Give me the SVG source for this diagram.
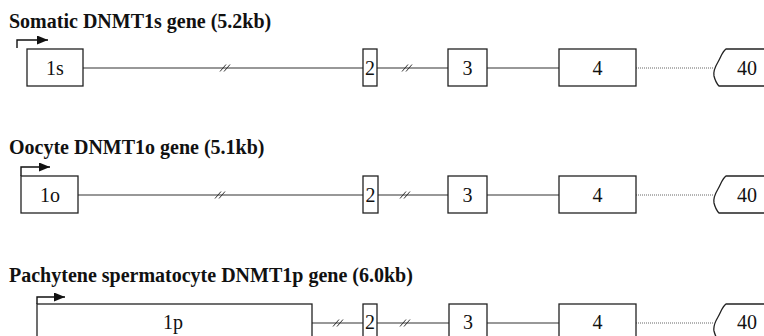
<svg xmlns="http://www.w3.org/2000/svg" xmlns:xlink="http://www.w3.org/1999/xlink" width="764" height="336" viewBox="0 0 764 336">
<style>
.title{font-family:"Liberation Serif","Times New Roman",serif;font-weight:bold;font-size:20px;fill:#111}
.lbl{font-family:"Liberation Serif","Times New Roman",serif;font-size:20px;fill:#111;text-anchor:middle}
.box{fill:#fff;stroke:#222;stroke-width:1.3}
.ln{stroke:#333;stroke-width:1.2;fill:none}
.dot{stroke:#666;stroke-width:1;stroke-dasharray:1 1;fill:none}
.arr{stroke:#111;stroke-width:1.4;fill:none}
</style>
<defs>
<marker id="ah" markerUnits="userSpaceOnUse" markerWidth="11" markerHeight="9" refX="11" refY="4.5" orient="auto">
<path d="M0,0 L11,4.5 L0,9 z" fill="#111"/>
</marker>
<g id="brk">
<path d="M-5,3.5 L1,-3.5 M-1,3.5 L5,-3.5" stroke="#333" stroke-width="1" fill="none"/>
</g>
<path id="end40" d="M764,0 L726,0 C722,3 721,8 718,13 C715,18 713,22 714,27 C715,31 716,34 719,37 L764,37" fill="#fff" stroke="#222" stroke-width="1.3"/>
</defs>
<rect width="764" height="336" fill="#fff"/>

<text class="title" x="9" y="28">Somatic DNMT1s gene (5.2kb)</text>
<text class="title" x="9" y="154">Oocyte DNMT1o gene (5.1kb)</text>
<text class="title" x="9" y="282">Pachytene spermatocyte DNMT1p gene (6.0kb)</text>

<g id="connectors">
<line class="ln" x1="83" y1="68" x2="363" y2="68"/>
<line class="ln" x1="377" y1="68" x2="448" y2="68"/>
<line class="ln" x1="487" y1="68" x2="559" y2="68"/>
<line class="dot" x1="636" y1="68" x2="714" y2="68"/>
<use xlink:href="#brk" x="225" y="68"/>
<use xlink:href="#brk" x="407" y="68"/>

<line class="ln" x1="78" y1="195" x2="363" y2="195"/>
<line class="ln" x1="378" y1="195" x2="448" y2="195"/>
<line class="ln" x1="487" y1="195" x2="559" y2="195"/>
<line class="dot" x1="636" y1="195" x2="714" y2="195"/>
<use xlink:href="#brk" x="220" y="195"/>
<use xlink:href="#brk" x="405" y="195"/>

<line class="ln" x1="312" y1="323" x2="363" y2="323"/>
<line class="ln" x1="377" y1="323" x2="449" y2="323"/>
<line class="ln" x1="487" y1="323" x2="559" y2="323"/>
<line class="dot" x1="636" y1="323" x2="714" y2="323"/>
<use xlink:href="#brk" x="338" y="323"/>
<use xlink:href="#brk" x="405" y="323"/>

<polyline class="arr" points="17,48 17,40 48,40" marker-end="url(#ah)"/>
<polyline class="arr" points="21,176 21,167 50,167" marker-end="url(#ah)"/>
<polyline class="arr" points="37,304 37,297 65,297" marker-end="url(#ah)"/>
</g>

<g id="s-ex1"><rect class="box" x="27" y="49" width="56" height="37"/><text class="lbl" x="55" y="75">1s</text></g>
<g id="s-ex2"><rect class="box" x="363" y="49" width="14" height="37"/><text class="lbl" x="370" y="75">2</text></g>
<g id="s-ex3"><rect class="box" x="448" y="49" width="39" height="37"/><text class="lbl" x="467.5" y="75">3</text></g>
<g id="s-ex4"><rect class="box" x="559" y="49" width="77" height="37"/><text class="lbl" x="597.5" y="75">4</text></g>
<g id="s-ex40"><use xlink:href="#end40" y="49"/><text class="lbl" x="747" y="75">40</text></g>

<g id="o-ex1"><rect class="box" x="21" y="176" width="57" height="37"/><text class="lbl" x="50" y="202">1o</text></g>
<g id="o-ex2"><rect class="box" x="363" y="176" width="15" height="37"/><text class="lbl" x="370.5" y="202">2</text></g>
<g id="o-ex3"><rect class="box" x="448" y="176" width="39" height="37"/><text class="lbl" x="467.5" y="202">3</text></g>
<g id="o-ex4"><rect class="box" x="559" y="176" width="77" height="37"/><text class="lbl" x="597.5" y="202">4</text></g>
<g id="o-ex40"><use xlink:href="#end40" y="176"/><text class="lbl" x="747" y="202">40</text></g>

<g id="p-ex1"><rect class="box" x="37" y="304" width="275" height="40"/><text class="lbl" x="173" y="329">1p</text></g>
<g id="p-ex2"><rect class="box" x="363" y="304" width="14" height="40"/><text class="lbl" x="370" y="329">2</text></g>
<g id="p-ex3"><rect class="box" x="449" y="304" width="38" height="40"/><text class="lbl" x="468" y="329">3</text></g>
<g id="p-ex4"><rect class="box" x="559" y="304" width="77" height="40"/><text class="lbl" x="597.5" y="329">4</text></g>
<g id="p-ex40"><use xlink:href="#end40" y="304"/><text class="lbl" x="747" y="329">40</text></g>
</svg>
